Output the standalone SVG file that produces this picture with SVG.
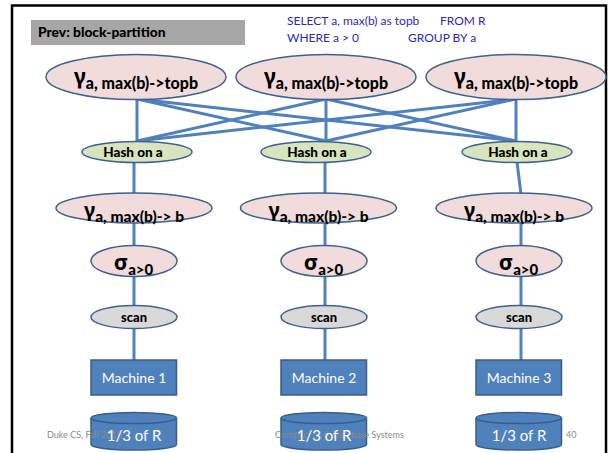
<svg xmlns="http://www.w3.org/2000/svg" width="611" height="453" viewBox="0 0 611 453">
<style>
  .t { font-family: Lato, "Liberation Sans", "Noto Sans", sans-serif; }
  .g { font-family: "Noto Sans", "DejaVu Sans", sans-serif; font-weight: bold; }
  .b { font-weight: 900; }
  .pink { fill: #f2dcdb; stroke: #3b6291; stroke-width: 1.5; }
  .green { fill: #d7e4bd; stroke: #3b6291; stroke-width: 1.5; }
  .grey { fill: #d9d9d9; stroke: #3b6291; stroke-width: 1.5; }
  .blue { fill: #4f81bd; stroke: #385d8a; stroke-width: 1.5; }
  .conn line { stroke: #4f81bd; stroke-width: 3; }
  .sql { fill: #2a2ab5; font-size: 12px; }
  .foot { fill: #8a8a8a; font-size: 9px; }
  .wt { fill: #ffffff; }
</style>
<rect x="0" y="0" width="611" height="453" fill="#ffffff"/>
<rect x="12" y="5.5" width="594" height="470" fill="none" stroke="#000" stroke-width="2.5"/>

<g id="title">
  <rect x="31" y="20" width="214" height="25" fill="#a6a6a6"/>
  <text class="t b" x="38" y="37" font-size="13.8" fill="#000">Prev: block-partition</text>
</g>
<g id="sql">
  <text class="t sql" x="287" y="25">SELECT a, max(b) as topb</text>
  <text class="t sql" x="440" y="25">FROM R</text>
  <text class="t sql" x="287" y="42">WHERE a &gt; 0</text>
  <text class="t sql" x="408" y="42">GROUP BY a</text>
</g>

<g class="conn" id="connectors">
  <line x1="137" y1="99" x2="137" y2="141"/>
  <line x1="137" y1="99" x2="326" y2="141"/>
  <line x1="137" y1="99" x2="516" y2="141"/>
  <line x1="326" y1="99" x2="137" y2="141"/>
  <line x1="326" y1="99" x2="326" y2="141"/>
  <line x1="326" y1="99" x2="516" y2="141"/>
  <line x1="516" y1="99" x2="137" y2="141"/>
  <line x1="516" y1="99" x2="326" y2="141"/>
  <line x1="516" y1="99" x2="516" y2="141"/>
  <line x1="134" y1="162" x2="134" y2="360"/>
  <line x1="325" y1="162" x2="325" y2="360"/>
  <line x1="517" y1="162" x2="521" y2="194"/>
  <line x1="521" y1="194" x2="521" y2="360"/>
</g>

<g id="gtop1">
  <ellipse class="pink" cx="136" cy="77" rx="90" ry="22.5"/>
  <text class="t" x="136" y="84" text-anchor="middle"><tspan class="g" font-size="21">γ</tspan><tspan class="b" font-size="16" dy="5">a, max(b)-&gt;topb</tspan></text>
</g>
<g id="gtop2">
  <ellipse class="pink" cx="326" cy="77" rx="90" ry="22.5"/>
  <text class="t" x="326" y="84" text-anchor="middle"><tspan class="g" font-size="21">γ</tspan><tspan class="b" font-size="16" dy="5">a, max(b)-&gt;topb</tspan></text>
</g>
<g id="gtop3">
  <ellipse class="pink" cx="516" cy="77" rx="90" ry="22.5"/>
  <text class="t" x="516" y="84" text-anchor="middle"><tspan class="g" font-size="21">γ</tspan><tspan class="b" font-size="16" dy="5">a, max(b)-&gt;topb</tspan></text>
</g>

<g id="hash1">
  <ellipse class="green" cx="137" cy="152" rx="55" ry="10.5"/>
  <text class="t b" x="133" y="157" font-size="13.5" text-anchor="middle">Hash on a</text>
</g>
<g id="hash2">
  <ellipse class="green" cx="316" cy="152" rx="55" ry="10.5"/>
  <text class="t b" x="317" y="157" font-size="13.5" text-anchor="middle">Hash on a</text>
</g>
<g id="hash3">
  <ellipse class="green" cx="517" cy="152" rx="55" ry="10.5"/>
  <text class="t b" x="518" y="157" font-size="13.5" text-anchor="middle">Hash on a</text>
</g>

<g id="gb1">
  <ellipse class="pink" cx="134" cy="208" rx="78" ry="15"/>
  <text class="t" x="134" y="217" text-anchor="middle"><tspan class="g" font-size="20">γ</tspan><tspan class="b" font-size="15.5" dy="5">a, max(b)-&gt; b</tspan></text>
</g>
<g id="gb2">
  <ellipse class="pink" cx="318.5" cy="208" rx="78" ry="15"/>
  <text class="t" x="318.5" y="217" text-anchor="middle"><tspan class="g" font-size="20">γ</tspan><tspan class="b" font-size="15.5" dy="5">a, max(b)-&gt; b</tspan></text>
</g>
<g id="gb3">
  <ellipse class="pink" cx="514" cy="208" rx="78" ry="15"/>
  <text class="t" x="514" y="217" text-anchor="middle"><tspan class="g" font-size="20">γ</tspan><tspan class="b" font-size="15.5" dy="5">a, max(b)-&gt; b</tspan></text>
</g>

<g id="sig1">
  <ellipse class="pink" cx="134" cy="261" rx="43" ry="15.5"/>
  <text class="t" x="133.5" y="270" text-anchor="middle"><tspan class="g" font-size="22">σ</tspan><tspan class="b" font-size="15" dy="5">a&gt;0</tspan></text>
</g>
<g id="sig2">
  <ellipse class="pink" cx="324" cy="261" rx="43" ry="15.5"/>
  <text class="t" x="323.5" y="270" text-anchor="middle"><tspan class="g" font-size="22">σ</tspan><tspan class="b" font-size="15" dy="5">a&gt;0</tspan></text>
</g>
<g id="sig3">
  <ellipse class="pink" cx="519" cy="261" rx="43" ry="15.5"/>
  <text class="t" x="518.5" y="270" text-anchor="middle"><tspan class="g" font-size="22">σ</tspan><tspan class="b" font-size="15" dy="5">a&gt;0</tspan></text>
</g>

<g id="scan1">
  <ellipse class="grey" cx="134" cy="317" rx="43" ry="11.5"/>
  <text class="t b" x="134" y="321.5" font-size="13" text-anchor="middle">scan</text>
</g>
<g id="scan2">
  <ellipse class="grey" cx="324" cy="317" rx="43" ry="11.5"/>
  <text class="t b" x="324" y="321.5" font-size="13" text-anchor="middle">scan</text>
</g>
<g id="scan3">
  <ellipse class="grey" cx="519" cy="317" rx="43" ry="11.5"/>
  <text class="t b" x="519" y="321.5" font-size="13" text-anchor="middle">scan</text>
</g>

<g id="m1">
  <rect class="blue" x="91" y="360" width="85.5" height="35"/>
  <text class="t wt" x="134" y="383" font-size="14" text-anchor="middle">Machine 1</text>
</g>
<g id="m2">
  <rect class="blue" x="281" y="360" width="85.5" height="35"/>
  <text class="t wt" x="324" y="383" font-size="14" text-anchor="middle">Machine 2</text>
</g>
<g id="m3">
  <rect class="blue" x="476" y="360" width="85.5" height="35"/>
  <text class="t wt" x="519" y="383" font-size="14" text-anchor="middle">Machine 3</text>
</g>

<g id="d1">
  <path class="blue" d="M91,418 L91,444.5 A42.75,5.5 0 0 0 176.5,444.5 L176.5,418"/>
  <ellipse class="blue" cx="133.75" cy="418" rx="42.75" ry="5.5"/>
</g>
<g id="d2">
  <path class="blue" d="M281,418 L281,444.5 A42.75,5.5 0 0 0 366.5,444.5 L366.5,418"/>
  <ellipse class="blue" cx="323.75" cy="418" rx="42.75" ry="5.5"/>
</g>
<g id="d3">
  <path class="blue" d="M476,418 L476,444.5 A42.75,5.5 0 0 0 561.5,444.5 L561.5,418"/>
  <ellipse class="blue" cx="518.75" cy="418" rx="42.75" ry="5.5"/>
</g>

<g id="footer">
  <text class="t foot" x="47" y="438">Duke CS, Fall 2018</text>
  <text class="t foot" x="275" y="438">CompSci 516: Database Systems</text>
  <text class="t foot" x="566" y="438">40</text>
</g>

<g id="dlabels">
  <text class="t wt" x="134" y="441" font-size="15" text-anchor="middle">1/3 of R</text>
  <text class="t wt" x="324" y="441" font-size="15" text-anchor="middle">1/3 of R</text>
  <text class="t wt" x="519" y="441" font-size="15" text-anchor="middle">1/3 of R</text>
</g>
</svg>
